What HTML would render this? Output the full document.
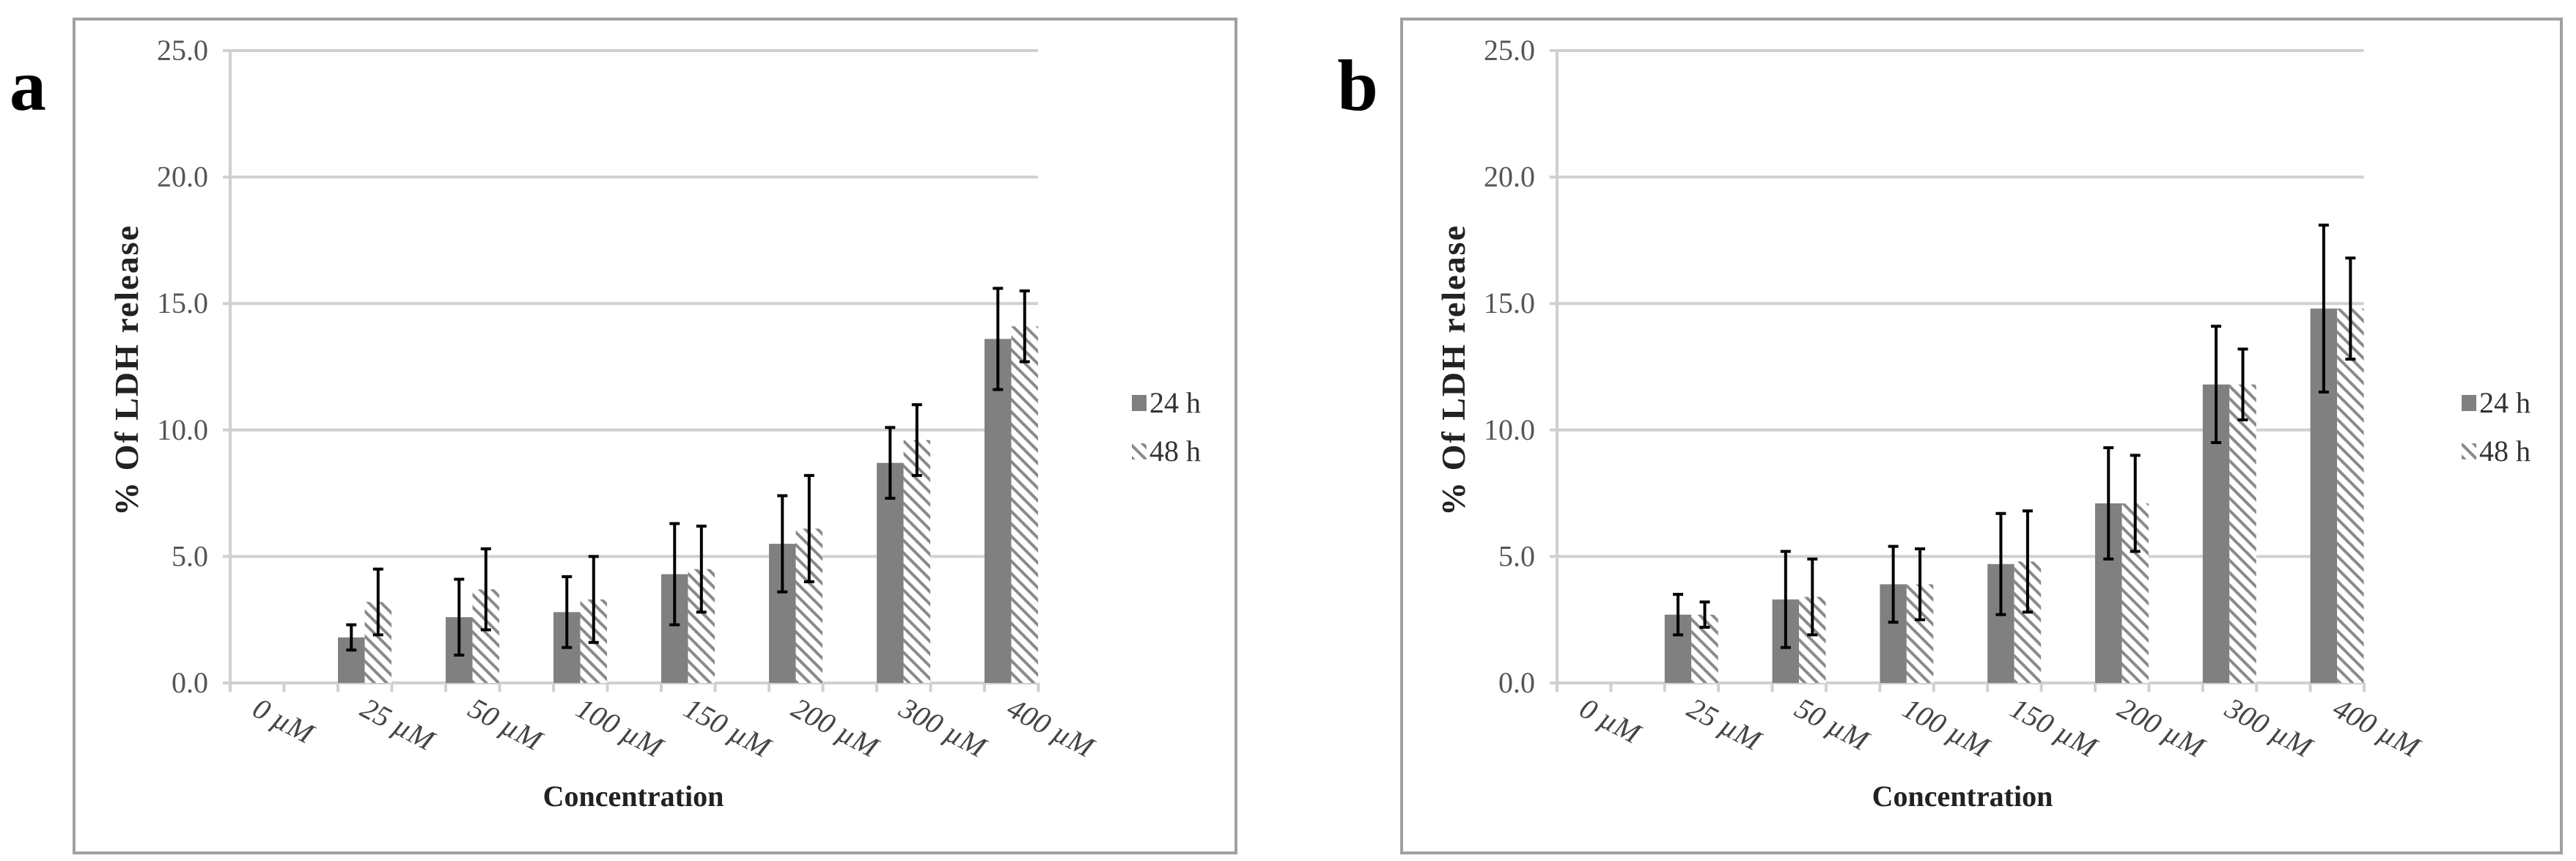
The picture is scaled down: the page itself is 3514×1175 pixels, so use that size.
<!DOCTYPE html>
<html><head><meta charset="utf-8">
<style>
html,body{margin:0;padding:0;background:#fff;}
svg{display:block;font-family:"Liberation Serif",serif;}
</style></head>
<body>
<svg id="fig" width="3514" height="1175" viewBox="0 0 3514 1175" xmlns="http://www.w3.org/2000/svg">
<defs>
<pattern id="hatch" patternUnits="userSpaceOnUse" width="12" height="12" patternTransform="rotate(-45)">
<rect width="12" height="12" fill="#fff"/>
<rect x="0" y="0" width="4" height="12" fill="#8a8a8a"/>
</pattern>
</defs>
</svg>
<script>
const categories = ["0 µM","25 µM","50 µM","100 µM","150 µM","200 µM","300 µM","400 µM"];
const yTicks = [0,5,10,15,20,25];
const yTickLabels = ["0.0","5.0","10.0","15.0","20.0","25.0"];
const seriesNames = ["24 h","48 h"];
const a24 = [0,1.8,2.6,2.8,4.3,5.5,8.7,13.6];
const a24err = [0,0.5,1.5,1.4,2.0,1.9,1.4,2.0];
const a48 = [0,3.2,3.7,3.3,4.5,6.1,9.6,14.1];
const a48err = [0,1.3,1.6,1.7,1.7,2.1,1.4,1.4];
const b24 = [0,2.7,3.3,3.9,4.7,7.1,11.8,14.8];
const b24err = [0,0.8,1.9,1.5,2.0,2.2,2.3,3.3];
const b48 = [0,2.7,3.4,3.9,4.8,7.1,11.8,14.8];
const b48err = [0,0.5,1.5,1.4,2.0,1.9,1.4,2.0];

const NS="http://www.w3.org/2000/svg";
const svg=document.getElementById('fig');
function mk(tag,attrs,parent){const e=document.createElementNS(NS,tag);for(const k in attrs)e.setAttribute(k,attrs[k]);(parent||svg).appendChild(e);return e;}

function panel(cfg){
  const g=mk('g',{});
  
  
  const box=mk('rect',{x:cfg.boxL,y:26,width:cfg.boxR-cfg.boxL,height:1138,fill:'#fff',stroke:'#a0a0a0','stroke-width':4},g);
  
  
  const lab=mk('text',{x:cfg.labX,y:150,'font-size':100,'font-weight':'bold','text-anchor':'middle',fill:'#000'},g);
  lab.textContent=cfg.id;
  
  
  const y0=932, yTop=69;
  const ys=v=>y0-(v/25)*(y0-yTop);
  const L=cfg.plotL, step=cfg.step, bw=step*0.2485;
  const xs=i=>L+i*step;
  const R=xs(7)+2*bw;
  yTicks.forEach((t,i)=>{
    const ln=mk('line',{x1:L-10,x2:R,y1:ys(t),y2:ys(t),stroke:'#d0d0d0','stroke-width':4},g);
    
    
    const tx=mk('text',{x:L-30,y:ys(t)+13,'font-size':40,'text-anchor':'end',fill:'#555'},g);
    tx.textContent=yTickLabels[i];
    
    
  });
  mk('line',{x1:L,x2:L,y1:yTop,y2:y0+10,stroke:'#d0d0d0','stroke-width':4},g);
  for(let k=0;k<=15;k++){const x=L+k*step/2; if(x<=R+1) mk('line',{x1:x,x2:x,y1:y0,y2:y0+12,stroke:'#d0d0d0','stroke-width':4},g);}
  const drawBar=(x,v,e,fill,name)=>{
    if(v<=0)return;
    const r=mk('rect',{x:x,y:ys(v),width:bw,height:y0-ys(v),fill:fill},g);
    
    
    const cx=x+bw/2;
    const eb=mk('path',{d:`M${cx} ${ys(v+e)}V${ys(v-e)}M${cx-7} ${ys(v+e)}H${cx+7}M${cx-7} ${ys(v-e)}H${cx+7}`,stroke:'#000','stroke-width':4,fill:'none'},g);
    
    
  };
  categories.forEach((c,i)=>{
    drawBar(xs(i),cfg.s1[i],cfg.e1[i],'#808080','bar-24h');
    drawBar(xs(i)+bw,cfg.s2[i],cfg.e2[i],'url(#hatch)','bar-48h');
    const t=mk('text',{x:xs(i)+28,y:975,'font-size':40,'font-style':'italic',fill:'#444',transform:`rotate(28 ${xs(i)+28} 975)`},g);
    t.textContent=c;
    
    
  });
  const xt=mk('text',{x:cfg.xTitle,y:1100,'font-size':40,'font-weight':'bold','text-anchor':'middle',fill:'#222'},g);
  xt.textContent='Concentration';
  
  
  const yt=mk('text',{x:cfg.yTitle,y:505,'font-size':46,'font-weight':'bold','letter-spacing':2,'text-anchor':'middle',fill:'#222',transform:`rotate(-90 ${cfg.yTitle} 505)`},g);
  yt.textContent='% Of  LDH release';
  
  
  [0,1].forEach(j=>{
    const ly=563+j*66;
    const sq=mk('rect',{x:cfg.legX,y:ly-24,width:20,height:22,fill:j?'url(#hatch)':'#808080'},g);
    
    
    const lt=mk('text',{x:cfg.legX+24,y:ly,'font-size':40,fill:'#333'},g);
    lt.textContent=seriesNames[j];
    
    
  });
}
panel({id:'a',boxL:101,boxR:1686,labX:38,plotL:314,step:147,s1:a24,e1:a24err,s2:a48,e2:a48err,xTitle:864,yTitle:188,legX:1544});
panel({id:'b',boxL:1912,boxR:3494,labX:1852,plotL:2124,step:146.8,s1:b24,e1:b24err,s2:b48,e2:b48err,xTitle:2677,yTitle:1998,legX:3358});
</script>
</body></html>
